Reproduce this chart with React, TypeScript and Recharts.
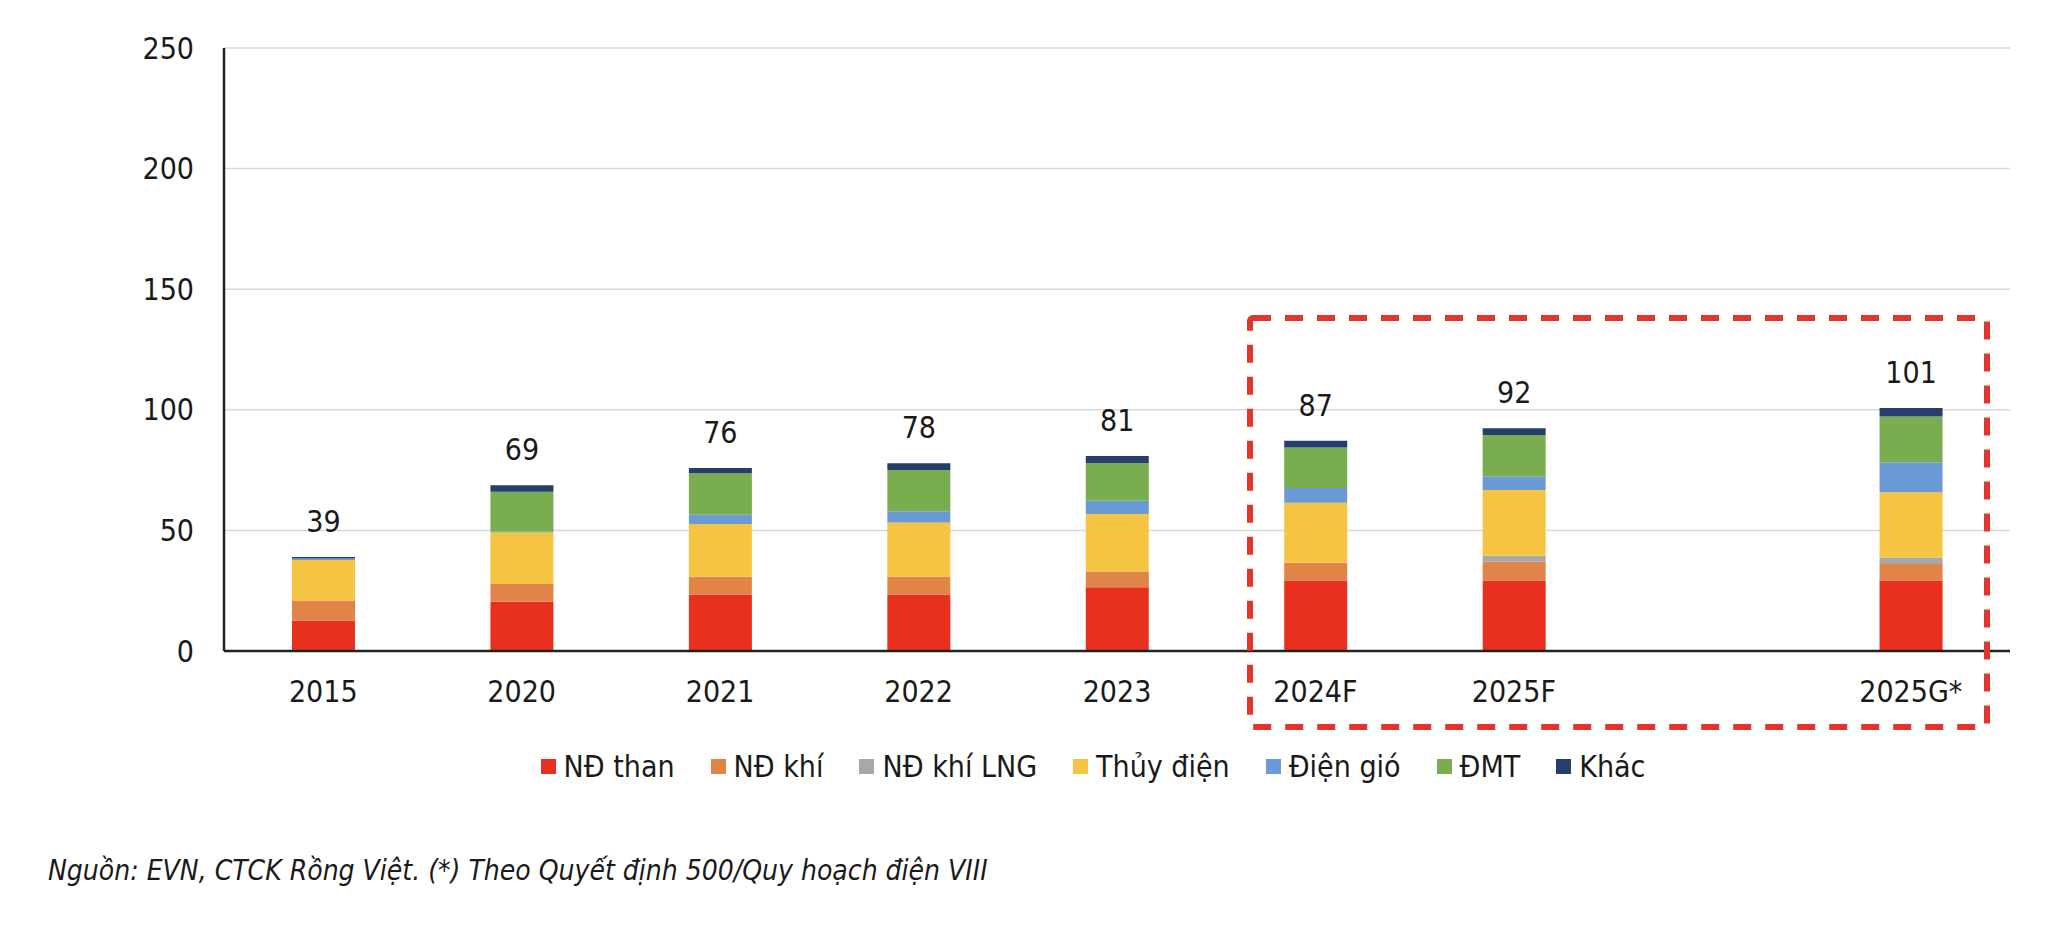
import { BarChart, Bar, XAxis, YAxis, CartesianGrid, Legend, LabelList } from 'recharts';

const years = ['2015', '2020', '2021', '2022', '2023', '2024F', '2025F', '', '2025G*'];
const ndThan = [12.6, 20.4, 23.4, 23.4, 26.4, 29.2, 29.2, 0, 29.2];
const ndKhi = [8.3, 7.4, 7.4, 7.4, 6.6, 7.4, 7.8, 0, 6.9];
const ndKhiLng = [0, 0, 0, 0, 0, 0, 2.5, 0, 2.7];
const thuyDien = [16.8, 21.3, 21.9, 22.5, 23.8, 24.9, 27.2, 0, 27.0];
const dienGio = [0.6, 0.3, 3.8, 4.6, 5.5, 6.1, 5.6, 0, 12.4];
const dmt = [0, 16.6, 17.2, 17.1, 15.6, 16.8, 17.3, 0, 19.0];
const khac = [0.7, 2.7, 2.2, 2.8, 2.9, 2.8, 2.7, 0, 3.5];
const totals = [39, 69, 76, 78, 81, 87, 92, null, 101];
const yTicks = [0, 50, 100, 150, 200, 250];

const series = [
  { key: 'ndThan', name: 'NĐ than', color: '#e8301f' },
  { key: 'ndKhi', name: 'NĐ khí', color: '#e08447' },
  { key: 'ndKhiLng', name: 'NĐ khí LNG', color: '#a8a8a8' },
  { key: 'thuyDien', name: 'Thủy điện', color: '#f5c443' },
  { key: 'dienGio', name: 'Điện gió', color: '#6a9bd6' },
  { key: 'dmt', name: 'ĐMT', color: '#7aad4f' },
  { key: 'khac', name: 'Khác', color: '#253e6c' },
];

const data = years.map((year, i) => ({
  year,
  ndThan: ndThan[i],
  ndKhi: ndKhi[i],
  ndKhiLng: ndKhiLng[i],
  thuyDien: thuyDien[i],
  dienGio: dienGio[i],
  dmt: dmt[i],
  khac: khac[i],
  total: totals[i],
}));

const FONT = "'Liberation Sans Narrow', 'DejaVu Sans Condensed', 'Open Sans', sans-serif";

const TotalLabel = (props: any) => {
  const { x, y, width, value } = props;
  if (value == null) return null;
  return (
    <text x={x + width / 2} y={y - 25} textAnchor="middle" fontSize={30} fontFamily={FONT} fill="#1a1a1a">
      {value}
    </text>
  );
};

const renderLegend = () => (
  <div style={{ display: 'flex', justifyContent: 'center', gap: 36, fontFamily: FONT, fontSize: 30, color: '#1a1a1a' }}>
    {series.map((s) => (
      <div key={s.key} style={{ display: 'flex', alignItems: 'center', gap: 8 }}>
        <span style={{ width: 15, height: 15, background: s.color, display: 'inline-block' }} />
        <span>{s.name}</span>
      </div>
    ))}
  </div>
);

export default function App() {
  return (
    <div style={{ position: 'relative', width: 2053, height: 936, background: '#fff' }}>
      <style>{`body{margin:0}`}</style>
      <BarChart
        width={2053}
        height={800}
        data={data}
        margin={{ top: 48, right: 43, bottom: 0, left: 0 }}
        barSize={63}
      >
        <CartesianGrid vertical={false} stroke="#d9d9d9" strokeWidth={1.5} />
        <XAxis
          dataKey="year"
          height={149}
          tickLine={false}
          tickSize={0}
          tickMargin={30}
          axisLine={{ stroke: '#222', strokeWidth: 2.5 }}
          tick={{ fontSize: 30, fontFamily: FONT, fill: '#1a1a1a' }}
          interval={0}
        />
        <YAxis
          width={224}
          domain={[0, 250]}
          ticks={yTicks}
          tickLine={false}
          tickSize={0}
          tickMargin={30}
          axisLine={{ stroke: '#222', strokeWidth: 2.5 }}
          tick={{ fontSize: 30, fontFamily: FONT, fill: '#1a1a1a' }}
        />
        <Legend
          verticalAlign="middle"
          align="center"
          content={renderLegend}
          wrapperStyle={{ top: 749, left: 140, width: 1906 }}
        />
        {series.map((s, i) => (
          <Bar
            key={s.key}
            dataKey={s.key}
            name={s.name}
            stackId="a"
            fill={s.color}
            isAnimationActive={false}
          >
            {i === series.length - 1 && <LabelList dataKey="total" content={TotalLabel} />}
          </Bar>
        ))}
      </BarChart>
      <svg width={2053} height={936} style={{ position: 'absolute', left: 0, top: 0, pointerEvents: 'none' }}>
        <rect
          x={1250}
          y={318}
          width={737}
          height={409}
          rx={3}
          fill="none"
          stroke="#e0362c"
          strokeWidth={6}
          strokeDasharray="18 14"
        />
      </svg>
      <div
        style={{
          position: 'absolute',
          left: 48,
          top: 854,
          fontFamily: FONT,
          fontStyle: 'italic',
          fontSize: 28,
          color: '#1a1a1a',
        }}
      >
        Nguồn: EVN, CTCK Rồng Việt. (*) Theo Quyết định 500/Quy hoạch điện VIII
      </div>
    </div>
  );
}
